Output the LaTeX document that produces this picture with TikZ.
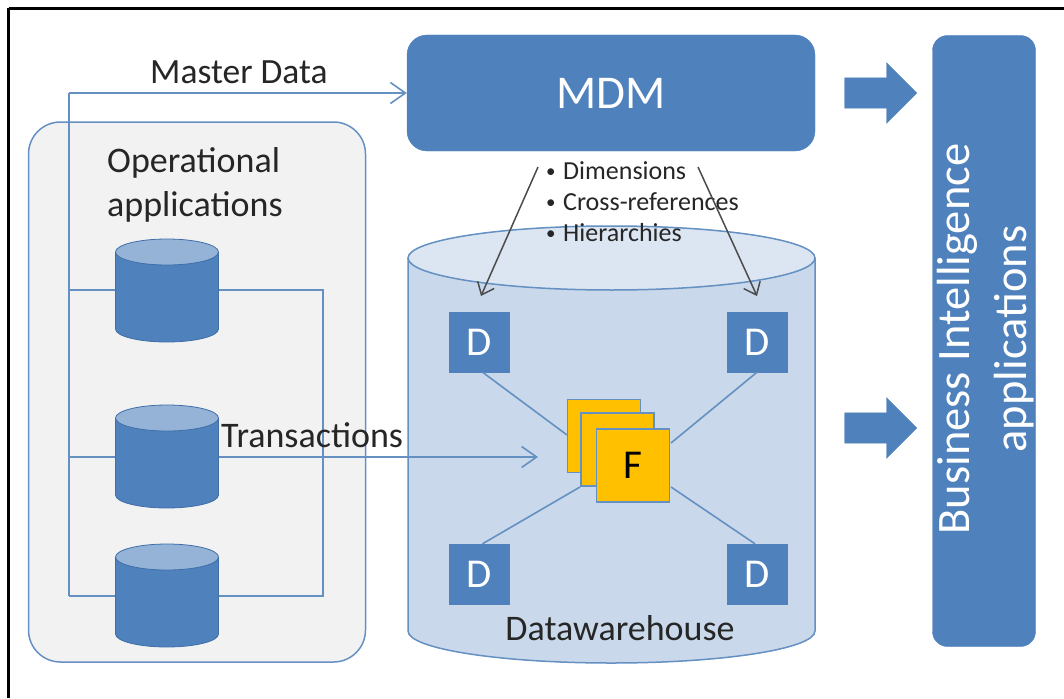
\documentclass[tikz,border=0pt]{standalone}
\usepackage{fontspec}
\setmainfont{Carlito}
\usetikzlibrary{arrows.meta,shapes.arrows,shapes.geometric}
\definecolor{blu}{HTML}{4F81BD}
\definecolor{blud}{HTML}{3F6FA8}
\definecolor{blul}{HTML}{95B3D7}
\definecolor{wh}{HTML}{C9D8EA}
\definecolor{wht}{HTML}{DCE6F2}
\definecolor{opp}{HTML}{F2F2F2}
\definecolor{lin}{HTML}{6490C2}
\definecolor{gold}{HTML}{FFC000}
\definecolor{txt}{HTML}{262626}
\tikzset{x=1pt,y=-1pt,
  conn/.style={draw=lin,line width=1.6pt},
  arr/.style={conn,-{Straight Barb[length=15pt,width=21pt,line width=1.6pt]}},
  darr/.style={draw=black!70,line width=1.5pt,-{Straight Barb[length=11pt,width=18pt,line width=1.5pt]}},
  lab/.style={inner sep=0pt,text=txt,font=\fontsize{36}{44}\selectfont},
  blab/.style={lab,anchor=base west,font=\fontsize{26}{31}\selectfont},
  dbox/.style={draw=blu,fill=blu,minimum size=60pt,inner sep=0pt,text=white,font=\fontsize{41}{44}\selectfont},
  fbox/.style={draw=lin,line width=1.4pt,fill=gold,minimum size=73pt,inner sep=0pt,font=\fontsize{41}{44}\selectfont},
  bigar/.style={single arrow,draw=blu,fill=blu,minimum width=59pt,minimum height=72pt,single arrow head extend=15pt,single arrow tip angle=90,inner xsep=0pt,inner ysep=15pt,anchor=tip},
}
\newcommand{\cyl}[3]{% cx, top-of-body y, name
  \fill[blu] (#1-51.5,#2) -- (#1-51.5,#2+77) arc[x radius=51.5,y radius=13,start angle=180,end angle=0] -- (#1+51.5,#2) -- cycle;
  \draw[blud,line width=.8pt] (#1-51.5,#2) -- (#1-51.5,#2+77) arc[x radius=51.5,y radius=13,start angle=180,end angle=0] -- (#1+51.5,#2);
  \draw[blud,line width=.8pt,fill=blul] (#1,#2) ellipse[x radius=51.5,y radius=13];
  \node[minimum width=103pt,minimum height=103pt,inner sep=0pt] (#3) at (#1,#2+38.5) {};
}
\newcommand{\smallbullet}{\makebox[19pt][l]{\hspace{2pt}\fontsize{19}{19}\selectfont\raisebox{1.5pt}{•}}}
\begin{document}
\begin{tikzpicture}
\useasboundingbox (0,0) rectangle (1064,698);
\fill[white] (0,0) rectangle (1064,698);
\draw[black,line width=2.6pt] (8.5,8.5) -- (1064,8.5);
\draw[black,line width=2.6pt] (8.5,8.5) -- (8.5,698);
% operational panel
\node[draw=lin,line width=1.5pt,fill=opp,rounded corners=32pt,minimum width=337pt,minimum height=540pt,inner sep=0pt] (ops) at (197,392) {};
% warehouse body
\fill[wh] (408,258) -- (408,631) arc[x radius=203.5,y radius=32,start angle=180,end angle=0] -- (815,258) -- cycle;
\draw[lin,line width=1.5pt] (408,258) -- (408,631) arc[x radius=203.5,y radius=32,start angle=180,end angle=0] -- (815,258);
\draw[lin,line width=1.5pt,fill=wht] (611.5,258) ellipse[x radius=203.5,y radius=32];
\node[minimum width=407pt,minimum height=437pt,inner sep=0pt] (dw) at (611.5,444.5) {};
% connector bus
\coordinate (busT) at (69,93);
\coordinate (bus1) at (69,290);
\coordinate (bus2) at (69,457);
\coordinate (busB) at (69,596);
\coordinate (busR) at (323,596);
\coordinate (busRT) at (323,290);
\coordinate (tr) at (538,457);
\draw[conn] (busB) -- (busR) -- (busRT) -- (bus1);
\draw[arr] (bus2) -- (tr);
% cylinders
\cyl{167}{252}{c1}
\cyl{167}{418}{c2}
\cyl{167}{557}{c3}
% nodes
\node[draw=blu,fill=blu,rounded corners=20pt,minimum width=408pt,minimum height=116pt,inner sep=0pt,text=white,font=\fontsize{47}{48}\selectfont] (mdm) at (611,93) {MDM};
\node[draw=blu,fill=blu,rounded corners=15pt,minimum width=103pt,minimum height=611pt,inner sep=0pt] (bi) at (984,341) {};
\node[rotate=90,text=white,align=center,font=\fontsize{46.5}{57}\selectfont,inner sep=0pt] (bit) at (986,339) {Business Intelligence\\applications};
\node[dbox] (d1) at (479.5,342) {D};
\node[dbox] (d2) at (757,342) {D};
\node[dbox] (d3) at (479.5,574) {D};
\node[dbox] (d4) at (757,574) {D};
\node[fbox] (f1) at (604,436) {};
\node[fbox] (f2) at (617.5,449.5) {};
\node[fbox] (f3) at (633,465.5) {F};
% connectors
\draw[conn] (busB) -- (busT);
\draw[arr] (busT) -- (mdm.west);
\coordinate (e1) at (567,435);
\coordinate (e2) at (671,443);
\coordinate (e3) at (580,487);
\coordinate (e4) at (671,487);
\draw[conn] (d1.south) ++(3,0) -- (e1);
\draw[conn] (d2.south) -- (e2);
\draw[conn] (d3.north) ++(3,0) -- (e3);
\draw[conn] (d4.north) ++(-2,0) -- (e4);
% big arrows
\node[bigar] (a1) at (917,93) {};
\node[bigar] (a2) at (917,428) {};
% texts
\node[lab,anchor=base west,font=\fontsize{35.5}{40}\selectfont] (ml) at (150,84) {Master Data};
\node[lab,anchor=base west] (ol1) at (107,172) {Operational};
\node[lab,anchor=base west] (ol2) at (107,216) {applications};
\node[lab,anchor=base west] (tl) at (221,447) {Transactions};
\node[lab,anchor=base] (dl) at (620,640) {Datawarehouse};
\node[blab] (b1) at (544,179) {\smallbullet Dimensions};
\node[blab] (b2) at (544,210) {\smallbullet Cross-references};
\node[blab] (b3) at (544,241) {\smallbullet Hierarchies};
\coordinate (s1) at (538,167);
\coordinate (s2) at (698,167);
\coordinate (t1) at (481,296);
\coordinate (t2) at (757,296);
\draw[darr] (s1) -- (t1);
\draw[darr] (s2) -- (t2);
\end{tikzpicture}
\end{document}
